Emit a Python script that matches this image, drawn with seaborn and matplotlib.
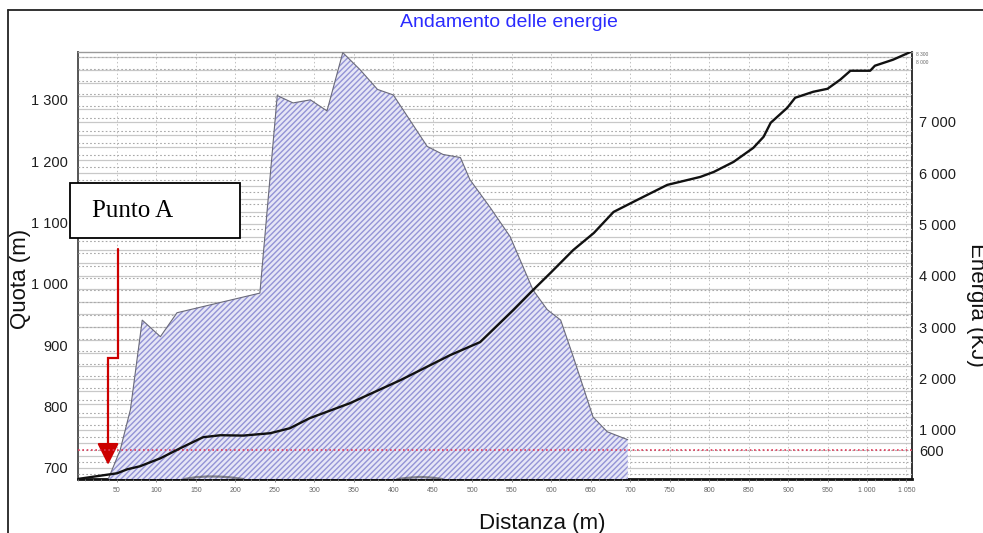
import numpy as np
import pandas as pd
import matplotlib
matplotlib.use("Agg")
import matplotlib.pyplot as plt
import seaborn as sns
from matplotlib.lines import Line2D
from matplotlib.patches import Rectangle
from matplotlib.ticker import FixedLocator, FuncFormatter, MultipleLocator

# Profilo altimetrico (distanza in m, quota in m s.l.m.)
dist_quota = [39, 54, 67, 82, 105, 126, 231, 253, 273, 295, 316, 336, 358, 380,
              400, 443, 463, 485, 497, 523, 548, 577, 595, 612, 628, 653, 671, 697]
quota = [682, 729, 795, 941, 914, 953, 985, 1307, 1295, 1300, 1282, 1377, 1349, 1317,
         1308, 1224, 1211, 1206, 1170, 1124, 1077, 990, 958, 941, 881, 783, 759, 746]

# Energia cinetica lungo il percorso (kJ)
dist_energia = [0, 50, 63, 79, 105, 130, 159, 181, 210, 244, 269, 294, 345, 409, 472,
                510, 552, 577, 599, 628, 654, 679, 709, 747, 789, 806, 831, 856, 869,
                878, 899, 909, 932, 950, 966, 979, 1004, 1010, 1033, 1055]
energia = [45, 156, 234, 292, 448, 643, 858, 897, 890, 936, 1033, 1228, 1520, 1969,
           2456, 2710, 3333, 3723, 4055, 4503, 4834, 5244, 5478, 5770, 5926, 6023,
           6218, 6491, 6706, 6979, 7271, 7466, 7583, 7641, 7817, 7992, 7992, 8090,
           8207, 8357]

# Picchi secondari di energia vicino al fondo scala
dist_picchi = [135, 150, 165, 180, 195, 210, np.nan, 405, 420, 435, 450, 462]
energia_picchi = [45, 80, 95, 92, 75, 45, np.nan, 45, 70, 85, 70, 45]

soglia_energia = 600
x_ticks = list(range(50, 1051, 50))
quota_ticks = [700, 800, 900, 1000, 1100, 1200, 1300]
energia_ticks = [600, 1000, 2000, 3000, 4000, 5000, 6000, 7000]

# Percorso della freccia "Punto A"
freccia_x = [51.3, 51.3, 38.7, 38.7]
freccia_y = [1057, 879, 879, 735]
punta_freccia = (38.7, 705)

sns.set_theme(style="white")
plt.rcParams["font.family"] = ["Liberation Sans", "DejaVu Sans"]
plt.rcParams["hatch.color"] = "#9494d6"
plt.rcParams["hatch.linewidth"] = 1.0

fig = plt.figure(figsize=(9.83, 5.33), dpi=100)
rect = [77.5 / 983, 1 - 479 / 533, (912 - 77.5) / 983, (479 - 52) / 533]

xlim = (0, 1057)
qlim = (682, 1378)
elim = (45, 8357)

def spaced(v, pos=None):
    return f"{v:,.0f}".replace(",", " ")

# Asse dell'energia (sotto): griglia continua e scala destra
ax_e = fig.add_axes(rect, zorder=0)
ax_e.set_xlim(xlim)
ax_e.set_ylim(elim)
ax_e.set_facecolor("white")
for v in np.arange(250, 8357, 250):
    ax_e.axhline(v, color="#c8c8c8", lw=0.9, zorder=0)
for v in x_ticks:
    ax_e.axvline(v, color="#c0c0c0", lw=0.7, ls=(0, (1.5, 2.5)), zorder=0)
ax_e.yaxis.tick_right()
ax_e.yaxis.set_major_locator(FixedLocator(energia_ticks))
ax_e.yaxis.set_major_formatter(FuncFormatter(spaced))
ax_e.tick_params(axis="y", right=True, length=0, pad=5, labelsize=10.5, labelcolor="#1e1e1e")
ax_e.set_xticks([])
for side, (c, w) in {"left": ("#555555", 1.4), "bottom": ("#111111", 2.0),
                     "right": ("#333333", 1.4), "top": ("#999999", 1.0)}.items():
    ax_e.spines[side].set_visible(True)
    ax_e.spines[side].set_color(c)
    ax_e.spines[side].set_linewidth(w)

# Asse della quota: griglia tratteggiata, profilo campito
ax = fig.add_axes(rect, zorder=1)
ax.patch.set_visible(False)
ax.set_xlim(xlim)
ax.set_ylim(qlim)
for v in np.arange(690, 1378, 20):
    ax.axhline(v, color="#a8a8a8", lw=0.8, ls=(0, (1.5, 2)), zorder=0)
profilo = pd.DataFrame({"distanza": dist_quota, "quota": quota})
ax.fill_between(profilo["distanza"], qlim[0], profilo["quota"],
                facecolor="#e6e6f6", edgecolor="#9494d6", hatch="//////", lw=0, zorder=2)
sns.lineplot(data=profilo, x="distanza", y="quota", ax=ax, color="#6a6a7a",
             lw=0.8, zorder=3)
ax.set_xlabel("")
ax.set_ylabel("")
ax.xaxis.set_major_locator(FixedLocator(x_ticks))
ax.xaxis.set_major_formatter(FuncFormatter(spaced))
ax.xaxis.set_minor_locator(MultipleLocator(10))
ax.tick_params(axis="x", which="major", bottom=True, length=2, width=0.6, color="#777777",
               labelsize=5, labelcolor="#666666", pad=4)
ax.tick_params(axis="x", which="minor", bottom=True, length=1.5, width=0.5, color="#999999")
ax.yaxis.set_major_locator(FixedLocator(quota_ticks))
ax.yaxis.set_major_formatter(FuncFormatter(spaced))
ax.tick_params(axis="y", left=True, length=0, pad=7, labelsize=10.5, labelcolor="#1e1e1e")
for s in ax.spines.values():
    s.set_visible(False)

# Freccia rossa del "Punto A"
ax.plot(freccia_x, freccia_y, color="#cc0000", lw=1.6, zorder=6, solid_joinstyle="miter")
ax.annotate("", xy=punta_freccia, xytext=(freccia_x[-1], freccia_y[-1]),
            arrowprops=dict(arrowstyle="-|>,head_length=1.1,head_width=0.55",
                            color="#cc0000", lw=1.6, shrinkA=0, shrinkB=0), zorder=6)

# Asse superiore: curva dell'energia e soglia
ax_top = fig.add_axes(rect, zorder=2, sharex=ax_e, sharey=ax_e)
ax_top.patch.set_visible(False)
ax_top.axis("off")
ax_top.axhline(soglia_energia, color="#e03a5a", lw=1.2, ls=(0, (1, 1.6)), zorder=4)
ax_top.plot(dist_picchi, energia_picchi, color="#444444", lw=1.6, alpha=0.6, zorder=4)
curva = pd.DataFrame({"distanza": dist_energia, "energia": energia})
sns.lineplot(data=curva, x="distanza", y="energia", ax=ax_top, color="#111111", lw=1.7, zorder=5)
ax_top.set_xlim(xlim)
ax_top.set_ylim(elim)

# Riquadro "Punto A"
fig.add_artist(Rectangle((70 / 983, 1 - 238 / 533), 170 / 983, 55 / 533,
                         transform=fig.transFigure, facecolor="white",
                         edgecolor="black", lw=1.3, zorder=10))
fig.text(92 / 983, 1 - 211 / 533, "Punto A", fontsize=18, va="center", ha="left",
         family=["Liberation Serif", "DejaVu Serif"], color="black", zorder=11)

# Titolo ed etichette degli assi
fig.text(509 / 983, 1 - 22 / 533, "Andamento delle energie", fontsize=14,
         color="#2b2bff", ha="center", va="center")
fig.text(21 / 983, 1 - 279 / 533, "Quota (m)", fontsize=16, rotation=90,
         ha="center", va="center", color="#111111")
fig.text(977 / 983, 1 - 305 / 533, "Energia (KJ)", fontsize=16, rotation=270,
         ha="center", va="center", color="#111111")
fig.text(542 / 983, 1 - 529 / 533, "Distanza (m)", fontsize=16, ha="center",
         va="baseline", color="#111111")
fig.text(916 / 983, 1 - 54 / 533, "8 300", fontsize=3.5, color="#666666", va="center")
fig.text(916 / 983, 1 - 63 / 533, "8 000", fontsize=3.5, color="#666666", va="center")

# Cornice del riquadro
fig.add_artist(Line2D([8 / 983, 8 / 983], [0, 1 - 10 / 533], transform=fig.transFigure,
                      color="#222222", lw=1.3))
fig.add_artist(Line2D([8 / 983, 1], [1 - 10 / 533, 1 - 10 / 533], transform=fig.transFigure,
                      color="#222222", lw=1.3))

fig.savefig("out.png", dpi=100)
